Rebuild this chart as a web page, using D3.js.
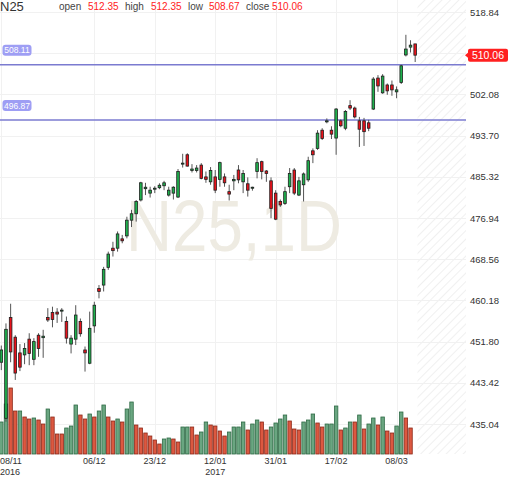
<!DOCTYPE html>
<html>
<head>
<meta charset="utf-8">
<script src="https://cdn.jsdelivr.net/npm/d3@7/dist/d3.min.js"></script>
<style>
body{margin:0;background:#fff}
svg{display:block;font-family:"Liberation Sans",Arial,sans-serif}
</style>
</head>
<body>
<script>
//daily candles, one per trading session, oldest first
var opens = [447.6,436.2,456.7,452.7,449.5,449.1,452.3,448.2,453.1,452.6,
	456.7,457.7,457.8,458.0,455.9,451.3,452.3,455.9,450.1,447.4,
	455.0,462.6,463.3,466.9,470.8,470.8,472.7,473.3,476.5,477.8,
	480.6,482.9,482.0,482.9,483.1,483.5,481.6,482.0,481.2,487.9,
	489.8,486.6,486.6,487.7,485.3,484.3,485.3,484.8,485.3,482.3,
	484.5,486.7,484.3,483.9,483.0,486.4,488.4,486.5,484.5,482.0,
	480.3,479.9,483.3,486.7,481.6,483.7,484.7,490.6,491.1,494.8,
	496.6,494.8,493.2,496.7,495.2,499.8,499.3,496.7,496.7,496.3,
	499.1,505.4,502.4,504.0,504.0,502.6,504.5,510.1,511.7,512.35];
var highs = [451.0,455.5,459.5,453.1,451.3,451.5,453.5,452.5,453.5,454.2,
	458.6,458.9,458.6,458.6,456.9,453.1,459.2,456.5,450.8,457.9,
	459.9,463.3,467.0,470.1,472.1,474.2,473.5,477.2,478.6,480.6,
	484.3,484.1,483.3,483.4,484.0,484.5,483.3,483.4,486.9,490.0,
	490.1,487.9,487.7,488.1,486.4,487.3,486.7,488.4,486.0,483.7,
	485.7,487.7,486.7,485.2,483.3,489.1,488.6,486.7,485.2,482.6,
	480.7,483.3,487.1,487.1,485.3,486.2,489.4,491.1,494.8,495.2,
	497.2,495.6,499.3,497.0,498.9,500.9,499.6,497.5,497.3,496.9,
	505.6,506.0,506.2,504.3,504.9,503.7,508.1,514.2,513.1,512.35];
var lows = [446.0,435.5,447.6,444.0,445.8,447.2,447.0,447.0,448.7,448.5,
	455.8,454.7,455.6,455.8,451.4,449.4,451.1,452.8,445.7,447.2,
	453.6,460.6,462.0,466.4,469.1,470.1,471.8,472.8,475.1,476.2,
	480.3,481.6,481.1,482.0,482.8,482.6,481.3,480.7,481.0,487.2,
	487.4,486.2,486.2,484.8,484.1,483.7,482.0,483.3,483.3,480.5,
	482.6,484.0,482.0,481.3,482.5,485.0,484.8,484.3,476.9,476.5,
	479.2,479.6,482.0,481.6,481.4,480.3,484.3,488.1,490.8,492.8,
	496.2,493.0,489.8,495.4,494.8,498.9,497.2,491.4,491.6,494.6,
	498.9,502.6,502.2,502.0,501.8,501.3,504.2,509.8,510.6,508.67];
var closes = [450.1,454.3,449.7,445.4,446.6,450.4,449.4,451.8,450.4,452.9,
	456.2,456.3,457.4,458.2,452.5,452.5,457.2,453.4,449.5,454.5,
	459.2,462.0,466.5,469.6,470.3,473.7,472.3,476.5,477.8,480.3,
	484.1,483.2,482.6,483.0,483.6,484.1,482.6,483.2,486.4,488.1,
	487.5,486.9,487.1,485.0,484.8,486.6,482.6,488.2,484.1,481.8,
	484.8,484.7,486.0,482.6,483.2,488.2,486.4,486.0,478.9,476.7,
	479.6,482.3,486.0,482.0,484.5,485.9,488.6,489.8,494.2,493.1,
	496.7,494.0,499.1,495.7,498.6,499.3,497.5,495.0,494.5,495.2,
	505.2,503.8,505.8,502.8,503.0,503.0,507.9,511.3,512.1,510.06];

//volume per session and whether its bar is drawn as up (1) or down (0)
var volumes = [32,50,66,43,43,37,35,36,34,30,
	45,37,20,20,26,28,49,39,35,40,
	37,43,49,37,33,35,32,45,52,29,
	26,21,18,14,10,15,16,15,12,27,
	27,27,19,22,32,29,28,23,18,22,
	27,27,32,24,30,34,32,24,27,31,
	35,39,33,25,24,32,34,40,31,27,
	30,30,48,24,26,32,32,39,25,30,
	36,29,37,23,21,28,42,36,26,0];
var volUp = [1,1,0,0,1,0,0,1,0,0,
	1,0,0,0,1,1,1,0,0,1,
	0,1,1,0,0,1,0,1,1,0,
	0,0,0,0,0,1,1,0,0,1,
	1,0,0,1,1,0,0,0,0,1,
	1,1,1,0,1,1,0,0,1,1,
	1,1,0,0,0,1,1,1,0,0,
	1,1,1,0,1,1,0,1,0,1,
	1,0,1,0,0,1,1,0,0,0];

//date axis: session index, day label, year line
var tickIdx = [0,20,33,46,59,72,85];
var tickLabels = ["08/11","06/12","23/12","12/01","31/01","17/02","08/03"];
var tickYears = ["2016","","","2017","","",""];

//price axis ticks and drawn levels
var priceTicks = [435.04,443.42,451.80,460.18,468.56,476.94,485.32,493.70,502.08,510.46,518.84];
var levels = [508.11,496.87];

var width = 512, height = 477,
	plotRight = 466, volBase = 454;

var svg = d3.select("body").append("svg")
	.attr("width", width)
	.attr("height", height);

var x = d3.scaleBand()
	.domain(d3.range(opens.length))
	.range([-1, 417.5])
	.paddingInner(0);
var step = x.step();
function cx(i){ return x(i) + step / 2; }

var y = d3.scaleLinear()
	.domain([435.04, 518.84])
	.range([424, 12]);

var yVol = d3.scaleLinear()
	.domain([0, d3.max(volumes)])
	.range([volBase, 388]);

var lastIdx = closes.length - 1;
var lastY = y(closes[lastIdx]);

//hatched future area
var defs = svg.append("defs");
var pat = defs.append("pattern")
	.attr("id", "hatch")
	.attr("width", 6)
	.attr("height", 6)
	.attr("patternUnits", "userSpaceOnUse")
	.attr("patternTransform", "rotate(45)");
pat.append("line")
	.attr("x1", 0).attr("y1", 0)
	.attr("x2", 0).attr("y2", 6)
	.attr("stroke", "#ececec")
	.attr("stroke-width", 1.6);

svg.append("rect")
	.attr("x", x.range()[1])
	.attr("y", 0)
	.attr("width", plotRight - x.range()[1])
	.attr("height", volBase)
	.attr("fill", "url(#hatch)");

//grid
svg.selectAll(".hgrid")
	.data(priceTicks)
	.enter()
	.append("line")
	.attr("class", "hgrid")
	.attr("x1", 0).attr("x2", plotRight)
	.attr("y1", function(d){ return Math.round(y(d)) + 0.5; })
	.attr("y2", function(d){ return Math.round(y(d)) + 0.5; })
	.attr("stroke", "#f1f1f1");

svg.selectAll(".vgrid")
	.data(tickIdx)
	.enter()
	.append("line")
	.attr("class", "vgrid")
	.attr("x1", function(d){ return Math.round(cx(d)) + 0.5; })
	.attr("x2", function(d){ return Math.round(cx(d)) + 0.5; })
	.attr("y1", 0).attr("y2", volBase)
	.attr("stroke", "#f1f1f1");

//watermark
svg.append("text")
	.attr("x", 126)
	.attr("y", 251)
	.attr("font-size", 72)
	.attr("fill", "#eeebe2")
	.attr("textLength", 216)
	.attr("lengthAdjust", "spacingAndGlyphs")
	.text("N25,1D");

//volume bars
svg.selectAll(".vol")
	.data(volumes)
	.enter()
	.append("rect")
	.attr("class", "vol")
	.attr("x", function(d, i){ return x(i) + 0.6; })
	.attr("width", step - 1.2)
	.attr("y", function(d){ return yVol(d); })
	.attr("height", function(d){ return volBase - yVol(d); })
	.attr("fill", function(d, i){ return volUp[i] ? "#6aa681" : "#dc5840"; })
	.attr("stroke", function(d, i){ return volUp[i] ? "#2f6a45" : "#8c2a1a"; })
	.attr("stroke-width", 0.8)
	.attr("display", function(d){ return d > 0 ? null : "none"; });

//level lines
svg.selectAll(".level")
	.data(levels)
	.enter()
	.append("line")
	.attr("class", "level")
	.attr("x1", 0).attr("x2", plotRight)
	.attr("y1", function(d){ return y(d); })
	.attr("y2", function(d){ return y(d); })
	.attr("stroke", "#7b7bd0")
	.attr("stroke-width", 1.5);

//candles
var candles = svg.selectAll(".candle")
	.data(opens)
	.enter()
	.append("g")
	.attr("class", "candle");

candles.append("line")
	.attr("x1", function(d, i){ return cx(i); })
	.attr("x2", function(d, i){ return cx(i); })
	.attr("y1", function(d, i){ return y(highs[i]); })
	.attr("y2", function(d, i){ return y(lows[i]); })
	.attr("stroke", "#555")
	.attr("stroke-width", 1);

candles.append("rect")
	.attr("x", function(d, i){ return cx(i) - 1.3; })
	.attr("width", 2.6)
	.attr("y", function(d, i){ return y(Math.max(opens[i], closes[i])); })
	.attr("height", function(d, i){ return Math.max(1, Math.abs(y(opens[i]) - y(closes[i]))); })
	.attr("fill", function(d, i){ return closes[i] >= opens[i] ? "#1fb04d" : "#e8121b"; })
	.attr("stroke", "#1e1e1e")
	.attr("stroke-width", 0.8);

//level tags on the left
var tags = svg.selectAll(".ltag")
	.data(levels)
	.enter()
	.append("g")
	.attr("class", "ltag");
tags.append("rect")
	.attr("x", 2.5)
	.attr("y", function(d){ return y(d) - 20; })
	.attr("width", 29)
	.attr("height", 11)
	.attr("rx", 3)
	.attr("fill", "#9e9ef4");
tags.append("text")
	.attr("x", 17)
	.attr("y", function(d){ return y(d) - 11.5; })
	.attr("text-anchor", "middle")
	.attr("font-size", 8.5)
	.attr("fill", "#fff")
	.text(function(d){ return d.toFixed(2); });

//price axis labels (the one under the last price tag is covered)
svg.selectAll(".ylab")
	.data(priceTicks.filter(function(d){ return Math.abs(y(d) - lastY) > 10; }))
	.enter()
	.append("text")
	.attr("class", "ylab")
	.attr("x", 470)
	.attr("y", function(d){ return y(d) + 3.5; })
	.attr("font-size", 9.5)
	.attr("fill", "#333")
	.text(function(d){ return d.toFixed(2); });

//last price tag
svg.append("path")
	.attr("d", "M465," + lastY + "L468.5," + (lastY - 3) + "L468.5," + (lastY + 3) + "Z")
	.attr("fill", "#ff2020");
svg.append("rect")
	.attr("x", 468)
	.attr("y", lastY - 6.5)
	.attr("width", 40)
	.attr("height", 13)
	.attr("rx", 2)
	.attr("fill", "#ff2020");
svg.append("text")
	.attr("x", 488)
	.attr("y", lastY + 3.8)
	.attr("text-anchor", "middle")
	.attr("font-size", 10.5)
	.attr("fill", "#fff")
	.text(closes[lastIdx].toFixed(2));

//date axis labels
svg.selectAll(".xlab")
	.data(tickIdx)
	.enter()
	.append("text")
	.attr("class", "xlab")
	.attr("x", function(d, i){ return i === 0 ? 0 : cx(d); })
	.attr("y", 464)
	.attr("text-anchor", function(d, i){ return i === 0 ? "start" : "middle"; })
	.attr("font-size", 9)
	.attr("fill", "#333")
	.text(function(d, i){ return tickLabels[i]; });

svg.selectAll(".xyear")
	.data(tickIdx.filter(function(d, i){ return tickYears[i] !== ""; }))
	.enter()
	.append("text")
	.attr("class", "xyear")
	.attr("x", function(d){ return d === tickIdx[0] ? 0 : cx(d); })
	.attr("y", 475)
	.attr("text-anchor", function(d){ return d === tickIdx[0] ? "start" : "middle"; })
	.attr("font-size", 9)
	.attr("fill", "#333")
	.text(function(d){ return tickYears[tickIdx.indexOf(d)]; });

//header
svg.append("text")
	.attr("x", 0).attr("y", 11)
	.attr("font-size", 13)
	.attr("fill", "#333")
	.text("N25");

var header = [
	["open", 59, opens[lastIdx], 88],
	["high", 125, highs[lastIdx], 151],
	["low", 188, lows[lastIdx], 209],
	["close", 246, closes[lastIdx], 272]
];
header.forEach(function(h){
	svg.append("text")
		.attr("x", h[1]).attr("y", 10)
		.attr("font-size", 10)
		.attr("fill", "#444")
		.text(h[0]);
	svg.append("text")
		.attr("x", h[3]).attr("y", 10)
		.attr("font-size", 10)
		.attr("fill", "#ff2222")
		.text(h[2].toFixed(2));
});
</script>
</body>
</html>
